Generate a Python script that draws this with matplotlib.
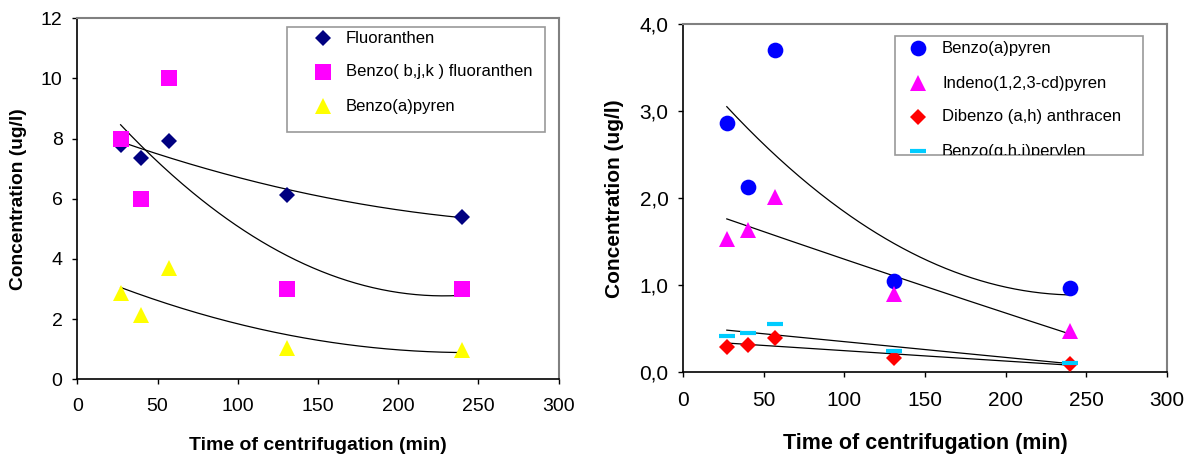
import numpy as np
import matplotlib
matplotlib.use("Agg")
import matplotlib.pyplot as plt
from matplotlib.patches import Rectangle
from matplotlib.lines import Line2D
from matplotlib.ticker import FuncFormatter

plt.rcParams['font.family'] = ['Liberation Sans', 'DejaVu Sans']

# ---- data ----
time_min = [27, 40, 57, 131, 240]

fluoranthen = [7.8, 7.37, 7.93, 6.11, 5.41]
benzo_bjk_fluoranthen = [8.0, 6.0, 10.0, 3.0, 3.0]
benzo_a_pyren = [2.87, 2.13, 3.7, 1.05, 0.97]

indeno_pyren = [1.53, 1.63, 2.02, 0.9, 0.48]
dibenzo_anthracen = [0.29, 0.31, 0.39, 0.17, 0.09]
benzo_ghi_perylen = [0.42, 0.45, 0.55, 0.24, 0.11]

left_labels = ["Fluoranthen", "Benzo( b,j,k ) fluoranthen", "Benzo(a)pyren"]
right_labels = ["Benzo(a)pyren", "Indeno(1,2,3-cd)pyren",
                "Dibenzo (a,h) anthracen", "Benzo(g,h,i)perylen"]

xlabel = "Time of centrifugation (min)"
ylabel = "Concentration (ug/l)"

W, H = 1194, 455
fig = plt.figure(figsize=(W / 100, H / 100), dpi=100)


def fx(x):
    return x / W


def fy(y):
    return 1 - y / H


def make_axes(x0, y0, x1, y1):
    return fig.add_axes([fx(x0), fy(y1), fx(x1) - fx(x0), fy(y0) - fy(y1)])


def style_axes(ax, tsize):
    for s in ('top', 'right'):
        ax.spines[s].set_color('#808080')
        ax.spines[s].set_linewidth(1.5)
    for s in ('left', 'bottom'):
        ax.spines[s].set_color('black')
        ax.spines[s].set_linewidth(1.2)
    ax.tick_params(top=False, right=False, direction='out', length=3.6,
                   width=1, labelsize=tsize)
    ax.tick_params(axis='x', pad=10)
    ax.tick_params(axis='y', pad=7)


def trend(ax, x, y):
    c = np.polyfit(x, y, 2)
    xs = np.linspace(min(x), max(x), 200)
    ax.plot(xs, np.polyval(c, xs), color='black', lw=0.9, zorder=2)


# ---- left chart ----
axL = make_axes(77.3, 18.3, 558.5, 379.3)
style_axes(axL, 14)
axL.set_xlim(0, 300)
axL.set_ylim(0, 12)
axL.set_xticks(range(0, 301, 50))
axL.set_yticks(range(0, 13, 2))

left_styles = [
    (fluoranthen, dict(marker='D', color='#000080', ms=8.5)),
    (benzo_bjk_fluoranthen, dict(marker='s', color='#FF00FF', ms=11.5)),
    (benzo_a_pyren, dict(marker='^', color='#FFFF00', ms=11.5)),
]
for vals, st in left_styles:
    axL.plot(time_min, vals, linestyle='none', mew=0, zorder=3, **st)
for vals, st in left_styles:
    trend(axL, time_min, vals)

axL.set_xlabel(xlabel, fontsize=14, fontweight='bold')
axL.set_ylabel(ylabel, fontsize=13.8, fontweight='bold')
axL.xaxis.label.set_va('center')
axL.yaxis.label.set_va('center')
axL.xaxis.set_label_coords(0.5, (379.3 - 445) / 361)
axL.yaxis.set_label_coords((18 - 77.3) / 481.2, 0.5)

# ---- right chart ----
axR = make_axes(683.3, 24.3, 1166.7, 372.3)
style_axes(axR, 15)
axR.set_xlim(0, 300)
axR.set_ylim(0, 4)
axR.set_xticks(range(0, 301, 50))
axR.set_yticks(np.arange(0, 4.01, 1.0))
axR.yaxis.set_major_formatter(FuncFormatter(lambda v, p: f"{v:.1f}".replace('.', ',')))

right_styles = [
    (benzo_a_pyren, dict(marker='o', color='#0000FF', ms=11.3, mew=0)),
    (indeno_pyren, dict(marker='^', color='#FF00FF', ms=11.3, mew=0)),
    (dibenzo_anthracen, dict(marker='D', color='#FF0000', ms=8, mew=0)),
    (benzo_ghi_perylen, dict(marker='_', color='#00CCFF', ms=11.3, mew=3)),
]
for vals, st in right_styles:
    axR.plot(time_min, vals, linestyle='none', zorder=3, **st)
for vals, st in right_styles:
    trend(axR, time_min, vals)

axR.set_xlabel(xlabel, fontsize=15.5, fontweight='bold')
axR.set_ylabel(ylabel, fontsize=15, fontweight='bold')
axR.xaxis.label.set_va('center')
axR.yaxis.label.set_va('center')
axR.xaxis.set_label_coords(0.5, (372.3 - 443) / 348)
axR.yaxis.set_label_coords((615 - 683.3) / 483.4, 0.5)


# ---- legends (Excel style boxes) ----
def draw_legend(box, entries, ys, mx, tx, fontsize):
    x0, y0, x1, y1 = box
    rect = Rectangle((fx(x0), fy(y1)), fx(x1) - fx(x0), fy(y0) - fy(y1),
                     transform=fig.transFigure, facecolor='white',
                     edgecolor='#999999', lw=1.2, zorder=10)
    fig.add_artist(rect)
    for (label, st), y in zip(entries, ys):
        st = dict(st)
        ln = Line2D([fx(mx)], [fy(y)], transform=fig.transFigure,
                    linestyle='none', zorder=11, **st)
        ln.set_clip_path(rect)
        fig.add_artist(ln)
        t = fig.text(fx(tx), fy(y), label, va='center', ha='left',
                     fontsize=fontsize, zorder=11)
        t.set_clip_path(rect)


draw_legend((287, 27, 545, 132),
            [(l, dict(s[1], mew=0)) for l, s in zip(left_labels, left_styles)],
            [38.3, 71.7, 106], 323, 346, 12)

draw_legend((895, 35.7, 1143, 155),
            [(l, s[1]) for l, s in zip(right_labels, right_styles)],
            [48.3, 83.3, 116.7, 151.5], 918, 942, 12)

fig.savefig("out.png", dpi=100)
